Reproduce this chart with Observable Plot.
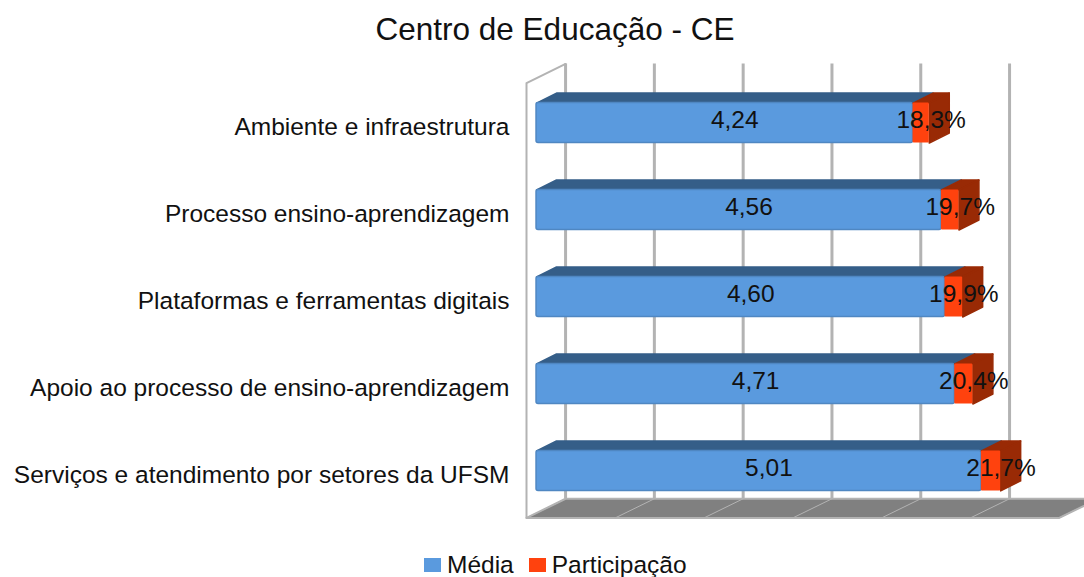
<!DOCTYPE html>
<html><head><meta charset="utf-8">
<script src="https://cdn.jsdelivr.net/npm/d3@7"></script>
<script src="https://cdn.jsdelivr.net/npm/@observablehq/plot@0.6"></script>
<style>
html,body{margin:0;padding:0;background:#fff;overflow:hidden}
body{width:1084px;height:577px;font-family:"Liberation Sans",sans-serif;color:#111}
#title{height:53px;line-height:58px;font-size:31.5px;text-align:center;width:1110px}
#legend{display:flex;align-items:center;margin-left:424px;padding-top:12px;font-size:24.5px;line-height:26px}
#legend i{display:inline-block;width:17px;height:14px;margin-right:6px}
#legend span{display:flex;align-items:center;margin-right:15px}
svg{display:block}
</style></head><body>
<div id="title">Centro de Educação - CE</div>
<div id="chart"></div>
<div id="legend"></div>
<script>
const categories = [
  "Ambiente e infraestrutura",
  "Processo ensino-aprendizagem",
  "Plataformas e ferramentas digitais",
  "Apoio ao processo de ensino-aprendizagem",
  "Serviços e atendimento por setores da UFSM"
];
const media = [4.24, 4.56, 4.60, 4.71, 5.01];
const participacao = [18.3, 19.7, 19.9, 20.4, 21.7];
const seriesNames = ["Média", "Participação"];
const gridTicks = [0, 1, 2, 3, 4, 5];
const floorTicks = [0, 1, 2, 3, 4, 5, 6];

const colors = {blue:"#5a9ade", blueTop:"#355e88", orange:"#ff420e", orangeDark:"#992a05", grid:"#b3b3b3", floor:"#808080"};

// 3D projection, in data units
const wallDX = 0.44, wallDY = 0.22, floorY = 4.54, wallTop = -0.46;
const barX = 0.113, barH = 0.23, barDX = 0.225, barDY = 0.115;

const rows = categories.map((c, i) => ({
  i, start: barX, mid: barX + media[i], end: barX + media[i] + participacao[i] / 100,
  media: media[i], part: participacao[i]
}));

function polys(fn) {
  return rows.flatMap(r => fn(r).map(([x, y]) => ({id: r.i, x, y})));
}
const topBlue = polys(r => [[r.start, r.i - barH], [r.start + barDX, r.i - barH - barDY], [r.mid + barDX, r.i - barH - barDY], [r.mid, r.i - barH]]);
const topOrange = polys(r => [[r.mid, r.i - barH], [r.mid + barDX, r.i - barH - barDY], [r.end + barDX, r.i - barH - barDY], [r.end, r.i - barH]]);
const sideOrange = polys(r => [[r.end, r.i - barH], [r.end + barDX, r.i - barH - barDY], [r.end + barDX, r.i + barH - barDY], [r.end, r.i + barH]]);

const floorPoly = [[0, floorY], [6, floorY], [6 + wallDX, floorY - wallDY], [wallDX, floorY - wallDY]].map(([x, y]) => ({x, y}));
const wallLine = [[0, floorY], [0, wallTop], [wallDX, wallTop - wallDY]].map(([x, y]) => ({x, y}));
const floorLines = floorTicks.flatMap(k => [{k, x: k, y: floorY}, {k, x: k + wallDX, y: floorY - wallDY}]);

const comma = (v, d) => v.toFixed(d).replace(".", ",");
const face = (data, fill) => Plot.line(data, {x: "x", y: "y", z: "id", fill, stroke: fill, strokeWidth: 1.5, strokeLinejoin: "round", curve: "linear-closed"});

const plot = Plot.plot({
  width: 1084, height: 487,
  marginLeft: 526, marginRight: 0, marginTop: 0, marginBottom: 0,
  x: {domain: [0, 6.284], axis: null},
  y: {domain: [4.8, -0.8], reverse: false, axis: null},
  style: {background: "transparent"},
  marks: [
    Plot.ruleX(gridTicks, {x: k => k + wallDX, y1: wallTop - wallDY, y2: floorY - wallDY, stroke: colors.grid, strokeWidth: 3}),
    Plot.line(wallLine, {x: "x", y: "y", stroke: colors.grid, strokeWidth: 2}),
    Plot.line(floorPoly, {x: "x", y: "y", fill: colors.floor, stroke: colors.grid, strokeWidth: 2, curve: "linear-closed"}),
    Plot.line(floorLines, {x: "x", y: "y", z: "k", stroke: colors.grid, strokeWidth: 1}),
    face(topBlue, colors.blueTop),
    Plot.rect(rows, {x1: "start", x2: "mid", y1: d => d.i - barH, y2: d => d.i + barH, fill: colors.blue, stroke: "#4f87c2", strokeWidth: 1.5, r: 2}),
    face(topOrange, colors.orangeDark),
    face(sideOrange, colors.orangeDark),
    Plot.rect(rows, {x1: "mid", x2: "end", y1: d => d.i - barH, y2: d => d.i + barH, fill: colors.orange, r: 1}),
    Plot.text(rows, {x: d => (d.start + d.mid) / 2 + barDX / 2, y: "i", dy: -3, text: d => comma(d.media, 2), fontSize: 24.5, fill: "#111", fontFamily: "Liberation Sans"}),
    Plot.text(rows, {x: d => (d.mid + d.end) / 2 + barDX / 2, y: "i", dy: -3, text: d => comma(d.part, 1) + "%", fontSize: 24.5, fill: "#111", fontFamily: "Liberation Sans"}),
    Plot.axisY(rows.map(r => r.i), {anchor: "left", tickSize: 0, tickPadding: 17, dy: 4, fontSize: 24.5, tickFormat: i => categories[i], label: null, fill: "#111", fontFamily: "Liberation Sans"})
  ]
});
document.getElementById("chart").append(plot);
const legend = document.getElementById("legend");
seriesNames.forEach((n, i) => {
  const s = document.createElement("span");
  const sw = document.createElement("i");
  sw.style.background = i ? colors.orange : colors.blue;
  s.append(sw, n);
  legend.append(s);
});
</script>
</body></html>
